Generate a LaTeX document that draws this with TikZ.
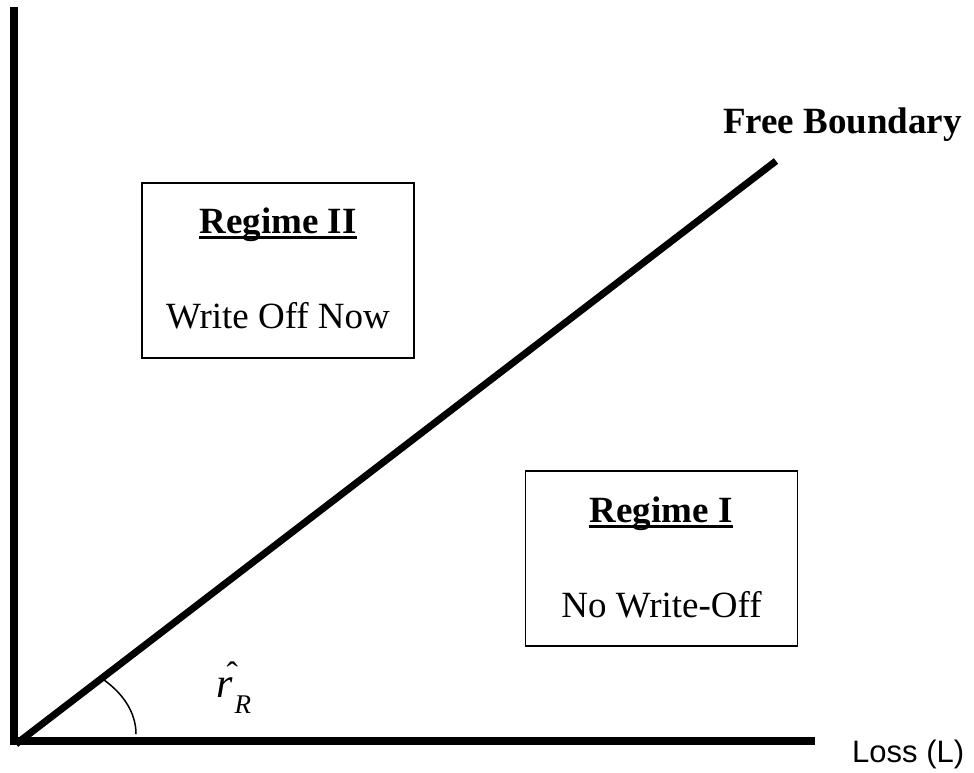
\documentclass[tikz,border=0pt]{standalone}
\usepackage{fontspec}
\setmainfont{Liberation Serif}
\newfontfamily\lossfont{Liberation Sans}
\begin{document}
\begin{tikzpicture}[x=1pt,y=-1pt,
  axisline/.style={line width=8pt, line cap=butt},
  boundary/.style={line width=7pt, line cap=butt},
  regimebox/.style={draw, line width=1.8pt, minimum width=272pt, minimum height=175pt, inner sep=0pt},
  headtext/.style={font=\fontsize{37}{44}\selectfont\bfseries, anchor=base, inner sep=0pt},
  bodytext/.style={font=\fontsize{37}{44}\selectfont, anchor=base, inner sep=0pt},
  ulined/.style={line width=3pt},
  anglearc/.style={line width=1.5pt}]
\useasboundingbox (0,0) rectangle (974,772);
% axes
\coordinate (ytop) at (14,7);
\coordinate (ybot) at (14,745);
\coordinate (xleft) at (10,741);
\coordinate (xend) at (815,741);
\draw[axisline] (ytop) -- (ybot);
\draw[axisline] (xleft) -- (xend);
% free boundary
\coordinate (d0) at (16,744);
\coordinate (d1) at (776,161);
\draw[boundary] (d0) -- (d1);
\node[headtext] (fb) at (842.5,133) {Free Boundary};
% loss label
\node[font=\lossfont\fontsize{31}{37}\selectfont, anchor=base west, inner sep=0pt] (loss) at (852,762) {Loss (L)};
% angle arc
\draw[anglearc] plot[domain=0:45, samples=40] ({14+122*cos(\x)}, {734-80*sin(\x)});
% angle label
\node[font=\fontsize{42}{48}\selectfont\itshape, anchor=base west, inner sep=0pt] (rhat) at (216,697)
  {r\kern-6pt\rlap{\raisebox{12pt}{\upshape\fontsize{34}{40}\selectfont\symbol{"02C6}}}\kern8pt\raisebox{-16pt}{\fontsize{27}{32}\selectfont R}};
% regime II
\node[regimebox] (box2) at (278,270.5) {};
\node[headtext] (reg2) at (278,233) {Regime II};
\draw[ulined] ([yshift=-4pt]reg2.base west) -- ([yshift=-4pt]reg2.base east);
\node[bodytext] (txt2) at (278,328) {Write Off Now};
% regime I
\node[regimebox] (box1) at (661.5,558.5) {};
\node[headtext] (reg1) at (661,522) {Regime I};
\draw[ulined] ([yshift=-4pt]reg1.base west) -- ([yshift=-4pt]reg1.base east);
\node[bodytext] (txt1) at (661.5,617) {No Write-Off};
\end{tikzpicture}
\end{document}
